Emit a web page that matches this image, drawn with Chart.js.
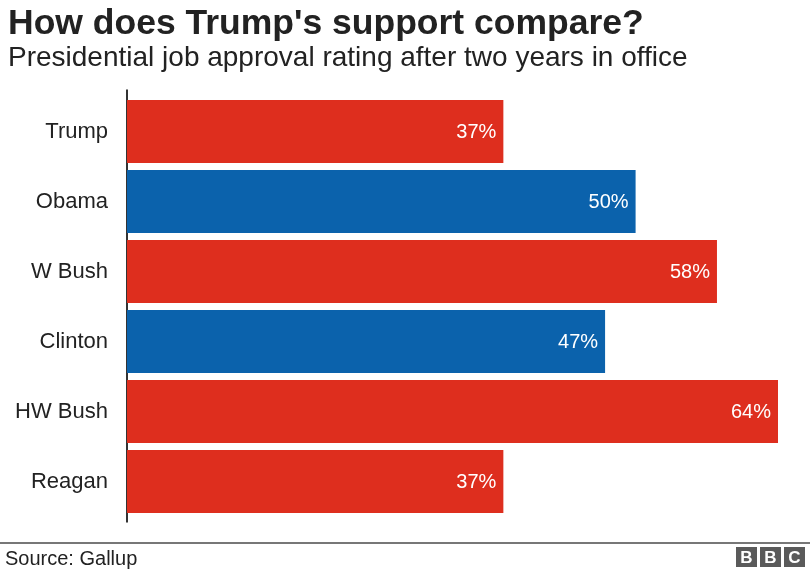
<!DOCTYPE html>
<html>
<head>
<meta charset="utf-8">
<script src="https://cdn.jsdelivr.net/npm/chart.js@4/dist/chart.umd.min.js"></script>
<style>
  html, body { margin: 0; padding: 0; background: #fff; }
  #wrap { width: 810px; height: 570px; position: relative; }
</style>
</head>
<body>
<div id="wrap"><canvas id="approvalChart" width="810" height="570"></canvas></div>
<script>
// Gallup job approval after two years in office
const presidents = ["Trump", "Obama", "W Bush", "Clinton", "HW Bush", "Reagan"];
const approval = [37, 50, 58, 47, 64, 37];
const parties = ["R", "D", "R", "D", "R", "R"];

const partyColour = { R: "#de2e1e", D: "#0b62ac" };
const FONT = "'Liberation Sans', Arial, Helvetica, sans-serif";

// headline, subtitle, axis line and footer
const bbcFrame = {
    id: "bbcFrame",
    beforeDatasetsDraw(chart) {
        const ctx = chart.ctx;
        const area = chart.chartArea;
        ctx.save();
        ctx.strokeStyle = "#333";
        ctx.lineWidth = 2;
        ctx.beginPath();
        ctx.moveTo(area.left, area.top - 7);
        ctx.lineTo(area.left, area.bottom + 6);
        ctx.stroke();
        ctx.restore();
    },
    afterDraw(chart) {
        const ctx = chart.ctx;
        ctx.save();
        ctx.fillStyle = "#222";
        ctx.textAlign = "left";
        ctx.textBaseline = "alphabetic";
        ctx.font = "bold 35.5px " + FONT;
        ctx.fillText("How does Trump's support compare?", 8, 34);
        ctx.font = "28px " + FONT;
        ctx.fillText("Presidential job approval rating after two years in office", 8, 66);

        // footer rule
        ctx.strokeStyle = "#777";
        ctx.lineWidth = 2;
        ctx.beginPath();
        ctx.moveTo(0, 543);
        ctx.lineTo(810, 543);
        ctx.stroke();

        ctx.font = "20px " + FONT;
        ctx.fillStyle = "#222";
        ctx.fillText("Source: Gallup", 5, 565);

        // BBC blocks
        const letters = ["B", "B", "C"];
        ctx.font = "bold 17px " + FONT;
        ctx.textAlign = "center";
        ctx.textBaseline = "middle";
        letters.forEach((l, i) => {
            const x = 736 + i * 24;
            ctx.fillStyle = "#5a5a5a";
            ctx.fillRect(x, 547, 21, 20);
            ctx.fillStyle = "#fff";
            ctx.fillText(l, x + 10.5, 558);
        });
        ctx.restore();
    }
};

// white percentage labels inside the bar ends
const valueLabels = {
    id: "valueLabels",
    afterDatasetsDraw(chart) {
        const ctx = chart.ctx;
        const meta = chart.getDatasetMeta(0);
        ctx.save();
        ctx.fillStyle = "#fff";
        ctx.font = "20px " + FONT;
        ctx.textAlign = "right";
        ctx.textBaseline = "middle";
        meta.data.forEach((bar, i) => {
            ctx.fillText(approval[i] + "%", bar.x - 7, bar.y + 1);
        });
        ctx.restore();
    }
};

new Chart(document.getElementById("approvalChart"), {
    type: "bar",
    data: {
        labels: presidents,
        datasets: [{
            data: approval,
            backgroundColor: parties.map(p => partyColour[p]),
            borderWidth: 0,
            categoryPercentage: 1,
            barPercentage: 0.9
        }]
    },
    options: {
        indexAxis: "y",
        responsive: false,
        animation: false,
        layout: { padding: { top: 96.5, bottom: 53.5, right: 32, left: 0 } },
        plugins: {
            legend: { display: false },
            tooltip: { enabled: false }
        },
        scales: {
            x: { display: false, min: 0, max: 64 },
            y: {
                grid: { display: false, drawTicks: false },
                border: { display: false },
                ticks: {
                    color: "#222",
                    padding: 19,
                    font: { family: FONT, size: 22 }
                },
                afterFit(scale) { scale.width = 127; }
            }
        }
    },
    plugins: [bbcFrame, valueLabels]
});
</script>
</body>
</html>
